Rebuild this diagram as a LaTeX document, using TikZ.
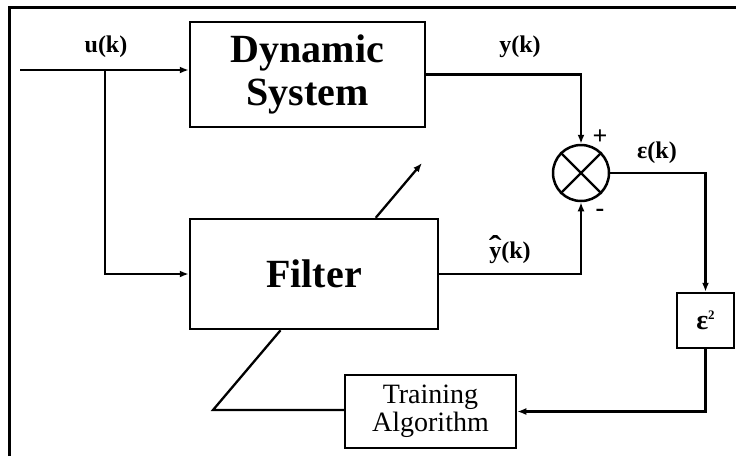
\documentclass[tikz,border=0pt]{standalone}
\usepackage{fontspec}
\usepackage{graphicx}
\setmainfont{Liberation Serif}
\usetikzlibrary{arrows.meta}
\begin{document}
\begin{tikzpicture}[x=1pt,y=-1pt,
  blk/.style={draw,line width=2.5pt,rectangle,inner sep=0pt,align=center},
  conn/.style={line width=2.3pt},
  arr/.style={conn,-{Latex[length=9pt,width=7pt]}},
  lbl/.style={font=\fontsize{24}{26}\selectfont\bfseries,inner sep=0pt},
  sgn/.style={font=\fontsize{26}{28}\selectfont\bfseries,inner sep=0pt}]
  \useasboundingbox (0,0) rectangle (736,456);
  % outer frame (only top and left edges are visible)
  \draw[line width=3pt] (9,456) -- (9,7) -- (736,7);

  % blocks
  \node[blk,minimum width=235pt,minimum height=105pt,
        font=\fontsize{40}{43}\selectfont\bfseries] (dyn) at (307.5,74.5) {Dynamic\\System};
  \node[blk,minimum width=248pt,minimum height=110pt,
        font=\fontsize{40}{43}\selectfont\bfseries] (filt) at (314,274) {Filter};
  \node[draw,line width=2.5pt,circle,minimum size=56pt,inner sep=0pt] (sum) at (581,173) {};
  \draw[line width=2.3pt] (sum.north west) -- (sum.south east)
                          (sum.north east) -- (sum.south west);
  \node[blk,minimum width=57pt,minimum height=55pt,
        font=\fontsize{28}{30}\selectfont\bfseries] (sq) at (705.5,320.5)
        {ε\raisebox{10pt}{\fontsize{13}{13}\selectfont 2}};
  \node[blk,minimum width=171pt,minimum height=73pt,
        font=\fontsize{28}{28}\selectfont] (train) at (430.5,411.5) {Training\\Algorithm};

  % input and its branch to the filter
  \coordinate (in) at (20,70);
  \coordinate (br) at (105,70);
  \draw[arr] (in) -- (in -| dyn.west);
  \draw[arr] (br) |- (filt.west);
  \node[lbl] (ulbl) at (106,47) {u(k)};

  % outputs into the summing junction
  \draw[arr] (dyn.east) -| (sum.north);
  \node[lbl] (ylbl) at (520,47) {y(k)};
  \draw[arr] (filt.east) -| (sum.south);
  \node[lbl,anchor=base] (yhlbl) at (510,258)
    {\makebox[0pt][l]{\hspace{-0.5pt}\raisebox{1pt}{\scalebox{1.6}[1.3]{ˆ}}}y(k)};
  \node[sgn] (plus) at (600,137) {+};
  \node[sgn] (minus) at (600,213) {-};

  % error path
  \draw[arr] (sum.east) -| (sq.north);
  \node[lbl] (elbl) at (657,153) {ε(k)};
  \draw[arr] (sq.south) |- (train.east);

  % adaptation arrow across the filter
  \coordinate (corner) at (213,410);
  \coordinate (tip) at (422,163);
  \coordinate (cb) at (intersection of corner--tip and filt.south west--filt.south east);
  \coordinate (ct) at (intersection of corner--tip and filt.north west--filt.north east);
  \draw[conn,line join=miter] (train.west |- corner) -- (corner) -- (cb);
  \draw[arr] (ct) -- (tip);
\end{tikzpicture}
\end{document}
